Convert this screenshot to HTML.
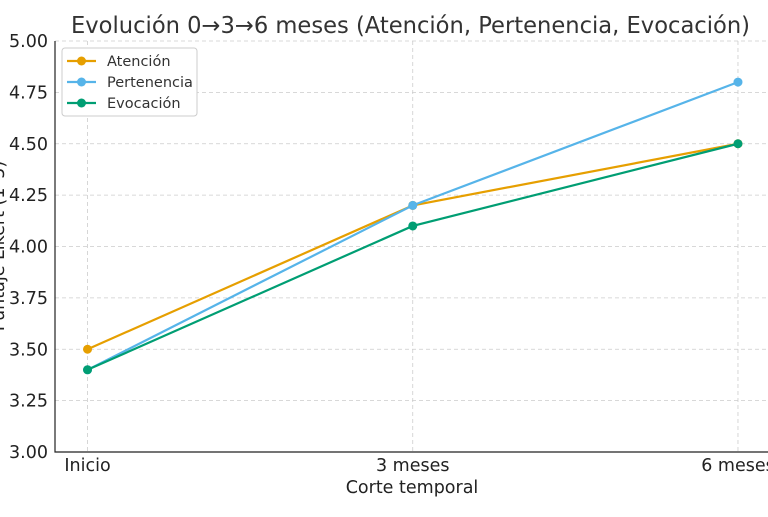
<!DOCTYPE html>
<html><head><meta charset="utf-8"><style>
body{margin:0;background:#fff;width:768px;height:512px;overflow:hidden}
svg{font-family:"DejaVu Sans","Liberation Sans",sans-serif}
</style></head><body>
<svg id="chart" width="768" height="512"></svg>
<script>
const categories = ["Inicio","3 meses","6 meses"];
const seriesNames = ["Atención","Pertenencia","Evocación"];
const atencion = [3.5, 4.2, 4.5];
const pertenencia = [3.4, 4.2, 4.8];
const evocacion = [3.4, 4.1, 4.5];
const yTicks = [3.00,3.25,3.50,3.75,4.00,4.25,4.50,4.75,5.00];
const colors = ["#E69F00","#56B4E9","#009E73"];
const NS="http://www.w3.org/2000/svg";
const svg=document.getElementById('chart');
const L=55,R=770.5,T=41,B=452;
const xs=i=>L+(i+0.1)/2.2*(R-L);
const ys=v=>B-(v-3)/2*(B-T);
function mk(t,a,p){const e=document.createElementNS(NS,t);for(const k in a)e.setAttribute(k,a[k]);(p||svg).appendChild(e);return e;}
yTicks.forEach(v=>{
  const g=mk('line',{x1:L,x2:R,y1:ys(v),y2:ys(v),stroke:'#ccc','stroke-dasharray':'4,3','stroke-width':0.8});
  
  
  const t=mk('text',{x:L-7,y:ys(v)+6,'text-anchor':'end','font-size':17.5,fill:'#222'});t.textContent=v.toFixed(2);
  
  
});
categories.forEach((c,i)=>{
  const g=mk('line',{x1:xs(i),x2:xs(i),y1:T,y2:B,stroke:'#ccc','stroke-dasharray':'4,3','stroke-width':0.8});
  
  
  const t=mk('text',{x:xs(i),y:B+19,'text-anchor':'middle','font-size':17.5,fill:'#222'});t.textContent=c;
  
  
});
const ax=mk('path',{d:`M${L},${T}V${B}H${R}`,fill:'none',stroke:'#222','stroke-width':1.2});


[atencion,pertenencia,evocacion].forEach((s,k)=>{
  const p=mk('polyline',{points:s.map((v,i)=>xs(i)+','+ys(v)).join(' '),fill:'none',stroke:colors[k],'stroke-width':2.2});
  
  
  s.forEach((v,i)=>{const c=mk('circle',{cx:xs(i),cy:ys(v),r:4.5,fill:colors[k]});
    
    });
});
const tt=mk('text',{x:71,y:33,'font-size':23,fill:'#333',textLength:679,lengthAdjust:'spacingAndGlyphs'});tt.textContent="Evolución 0→3→6 meses (Atención, Pertenencia, Evocación)";


const xl=mk('text',{x:412,y:493,'text-anchor':'middle','font-size':17.5,fill:'#222'});xl.textContent="Corte temporal";


const yl=mk('text',{x:0,y:0,'text-anchor':'middle','font-size':17.5,fill:'#222',transform:'translate(4,246) rotate(-90)'});yl.textContent="Puntaje Likert (1–5)";


const lg=mk('rect',{x:62,y:48,width:135,height:68,rx:3,fill:'#fff',stroke:'#ccc'});


seriesNames.forEach((n,k)=>{
  const y=61+k*21;
  mk('line',{x1:67,x2:96,y1:y,y2:y,stroke:colors[k],'stroke-width':2.2});
  mk('circle',{cx:81.5,cy:y,r:4.5,fill:colors[k]});
  const t=mk('text',{x:107,y:y+5,'font-size':14.5,fill:'#333'});t.textContent=n;
  
  
});
</script>
</body></html>
